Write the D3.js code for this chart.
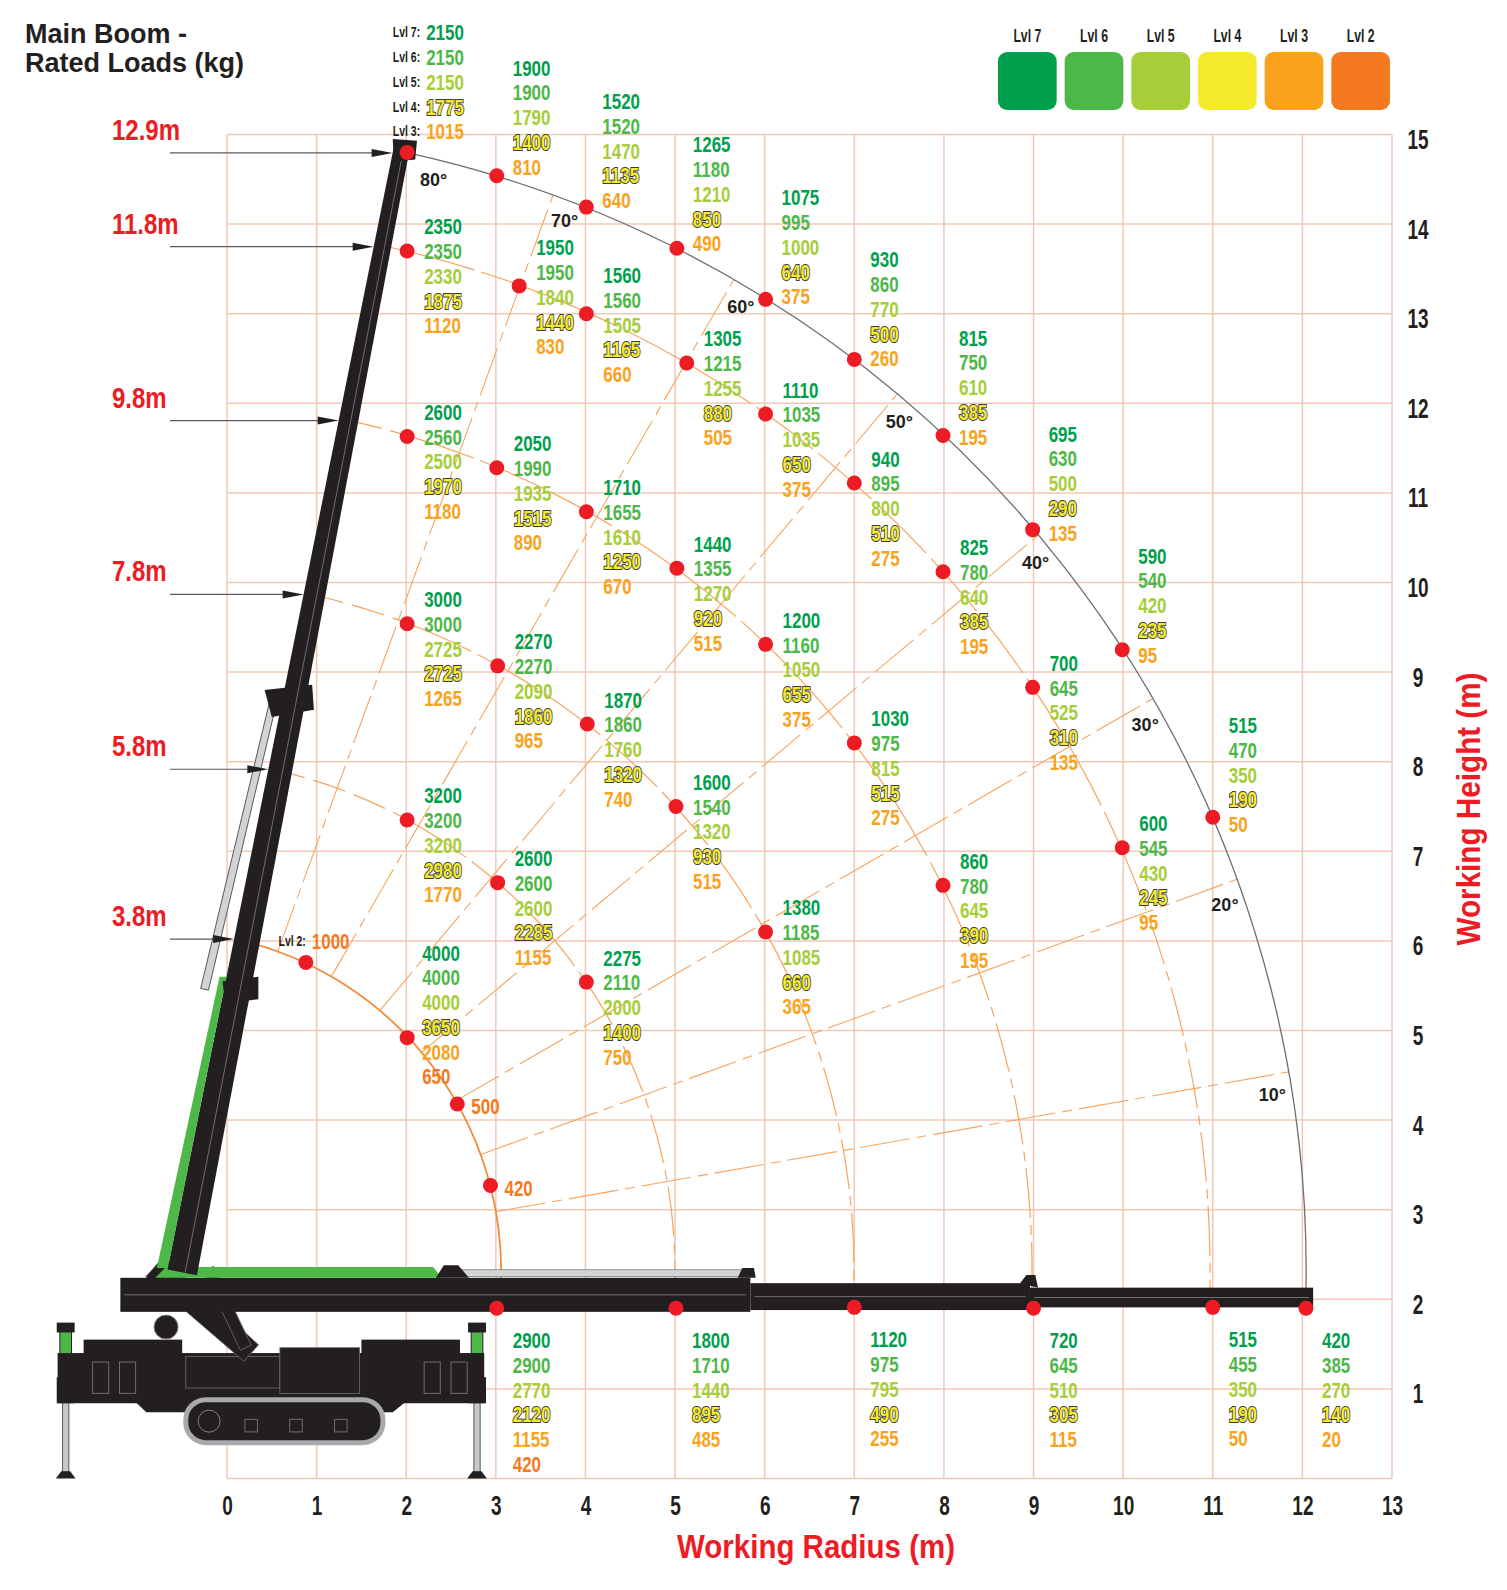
<!DOCTYPE html>
<html>
<head>
<meta charset="utf-8">
<script src="https://cdn.jsdelivr.net/npm/d3@7"></script>
<style>
body { margin: 0; background: #fff; }
svg { display: block; font-family: "Liberation Sans", Arial, sans-serif; }
</style>
</head>
<body>
<svg id="vis"></svg>
<script>
// ---- data ----
var levels = ["Lvl 7", "Lvl 6", "Lvl 5", "Lvl 4", "Lvl 3", "Lvl 2"];
var levelColors = ["#009f4d", "#4db848", "#a6ce39", "#f5eb2c", "#faa21b", "#f47920"];
var xTicks = d3.range(0, 14);
var yTicks = d3.range(1, 16);
var boomLengths = ["3.8m", "5.8m", "7.8m", "9.8m", "11.8m", "12.9m"];
var angleTicks = [10, 20, 30, 40, 50, 60, 70, 80];
var boomFoot = [-0.73, 2.32]; // centre of the reach arcs (m)

// [working radius, working height, loads Lvl7..Lvl2]
var pts38 = [
  [0.88, 5.76, [null, null, null, null, null, 1000]],
  [2.01, 4.92, [4000, 4000, 4000, 3650, 2080, 650]],
  [2.57, 4.18, [null, null, null, null, null, 500]],
  [2.94, 3.27, [null, null, null, null, null, 420]],
  [3.01, 1.90, [2900, 2900, 2770, 2120, 1155, 420]]
];
var pts58 = [
  [2.01, 7.35, [3200, 3200, 3200, 2980, 1770]],
  [3.02, 6.65, [2600, 2600, 2600, 2285, 1155]],
  [4.01, 5.54, [2275, 2110, 2000, 1400, 750]],
  [5.01, 1.90, [1800, 1710, 1440, 895, 485]]
];
var pts78 = [
  [2.01, 9.54, [3000, 3000, 2725, 2725, 1265]],
  [3.02, 9.07, [2270, 2270, 2090, 1860, 965]],
  [4.02, 8.42, [1870, 1860, 1760, 1320, 740]],
  [5.01, 7.50, [1600, 1540, 1320, 930, 515]],
  [6.01, 6.10, [1380, 1185, 1085, 660, 365]],
  [7.00, 1.91, [1120, 975, 795, 490, 255]]
];
var pts98 = [
  [2.01, 11.63, [2600, 2560, 2500, 1970, 1180]],
  [3.01, 11.28, [2050, 1990, 1935, 1515, 890]],
  [4.01, 10.79, [1710, 1655, 1610, 1250, 670]],
  [5.02, 10.16, [1440, 1355, 1270, 920, 515]],
  [6.01, 9.31, [1200, 1160, 1050, 655, 375]],
  [7.00, 8.21, [1030, 975, 815, 515, 275]],
  [7.99, 6.62, [860, 780, 645, 390, 195]],
  [9.00, 1.90, [720, 645, 510, 305, 115]]
];
var pts118 = [
  [2.01, 13.70, [2350, 2350, 2330, 1875, 1120]],
  [3.26, 13.31, [1950, 1950, 1840, 1440, 830]],
  [4.01, 13.00, [1560, 1560, 1505, 1165, 660]],
  [5.13, 12.45, [1305, 1215, 1255, 880, 505]],
  [6.01, 11.88, [1110, 1035, 1035, 650, 375]],
  [7.00, 11.11, [940, 895, 800, 510, 275]],
  [7.99, 10.12, [825, 780, 640, 385, 195]],
  [8.99, 8.83, [700, 645, 525, 310, 135]],
  [9.99, 7.04, [600, 545, 430, 245, 95]],
  [11.00, 1.91, [515, 455, 350, 190, 50]]
];
var pts129 = [
  [2.01, 14.80, [2150, 2150, 2150, 1775, 1015]],
  [3.01, 14.54, [1900, 1900, 1790, 1400, 810]],
  [4.01, 14.19, [1520, 1520, 1470, 1135, 640]],
  [5.02, 13.73, [1265, 1180, 1210, 850, 490]],
  [6.01, 13.16, [1075, 995, 1000, 640, 375]],
  [7.00, 12.49, [930, 860, 770, 500, 260]],
  [7.99, 11.64, [815, 750, 610, 385, 195]],
  [8.99, 10.59, [695, 630, 500, 290, 135]],
  [9.99, 9.25, [590, 540, 420, 235, 95]],
  [11.00, 7.38, [515, 470, 350, 190, 50]],
  [12.04, 1.90, [420, 385, 270, 140, 20]]
];
var groups = [pts38, pts58, pts78, pts98, pts118, pts129];

// ---- setup ----
var W = 1507, H = 1590;
var x = d3.scaleLinear().domain([0, 13]).range([227, 1392]);
var y = d3.scaleLinear().domain([0, 15]).range([1478.5, 134.5]);
var pxm = x(1) - x(0);
var RAD = Math.PI / 180;

var svg = d3.select("#vis").attr("width", W).attr("height", H);
svg.append("rect").attr("width", W).attr("height", H).attr("fill", "#fff");

function ang(p) { return Math.atan2(p[1] - boomFoot[1], p[0] - boomFoot[0]) / RAD; }
function dist(p) { return Math.hypot(p[0] - boomFoot[0], p[1] - boomFoot[1]); }
function isLow(p) { return p[1] < 2.1; }
function polar(R, a) { return [boomFoot[0] + R * Math.cos(a * RAD), boomFoot[1] + R * Math.sin(a * RAD)]; }

var radii = groups.map(function(g) { return d3.mean(g.filter(function(p) { return !isLow(p); }), dist); });
var boomAngle = ang(pts129[0]);

function arcPath(R, a0, a1) {
  var p = d3.path(), cx = x(boomFoot[0]), cy = y(boomFoot[1]), rp = R * pxm;
  var s0 = -a0 * RAD, s1 = -a1 * RAD;
  p.moveTo(cx + rp * Math.cos(s0), cy + rp * Math.sin(s0));
  p.arc(cx, cy, rp, s0, s1, a1 > a0);
  return p.toString();
}

// ---- grid ----
var grid = svg.append("g").attr("stroke", "#efc8b6").attr("stroke-width", 1.5);
grid.selectAll(".gv").data(xTicks).enter().append("line")
  .attr("x1", function(d) { return x(d); }).attr("x2", function(d) { return x(d); })
  .attr("y1", y(0)).attr("y2", y(15));
grid.selectAll(".gh").data(d3.range(0, 16)).enter().append("line")
  .attr("y1", function(d) { return y(d); }).attr("y2", function(d) { return y(d); })
  .attr("x1", x(0)).attr("x2", x(13));

// ---- radial angle lines ----
var lines = svg.append("g").attr("fill", "none");
angleTicks.filter(function(a) { return a < 80; }).forEach(function(a) {
  var p0 = polar(radii[0], a), p1 = polar(radii[5], a);
  lines.append("line")
    .attr("x1", x(p0[0])).attr("y1", y(p0[1])).attr("x2", x(p1[0])).attr("y2", y(p1[1]))
    .attr("stroke", "#f7a45f").attr("stroke-width", 1.1).attr("stroke-dasharray", "50,7,10,7");
});

// ---- reach arcs ----
groups.forEach(function(g, gi) {
  var R = radii[gi];
  var high = g.filter(function(p) { return !isLow(p); });
  var low = g.filter(isLow)[0];
  var aFirst = ang(high[0]), aLast = ang(high[high.length - 1]), aEnd = ang(low);
  if (gi === 5) {
    lines.append("path").attr("d", arcPath(R, boomAngle, aEnd)).attr("stroke", "#6d6e71").attr("stroke-width", 1.3);
  } else if (gi === 0) {
    lines.append("path").attr("d", arcPath(R, boomAngle, aEnd)).attr("stroke", "#f58a3a").attr("stroke-width", 1.8);
  } else {
    lines.append("path").attr("d", arcPath(R, boomAngle, aFirst)).attr("stroke", "#f7a45f").attr("stroke-width", 1.2).attr("stroke-dasharray", "34,9");
    lines.append("path").attr("d", arcPath(R, aFirst, aLast)).attr("stroke", "#f7a45f").attr("stroke-width", 1.2).attr("stroke-dasharray", "70,7");
    lines.append("path").attr("d", arcPath(R, aLast, aEnd)).attr("stroke", "#f7a45f").attr("stroke-width", 1.2).attr("stroke-dasharray", "50,7,10,7");
  }
});

// angle labels
svg.append("g").selectAll("text").data(angleTicks).enter().append("text")
  .each(function(a) {
    var p = polar(12.55, a === 80 ? 76 : a - 1);
    d3.select(this).attr("x", x(p[0])).attr("y", y(p[1]) + 6);
  })
  .attr("text-anchor", "middle").attr("font-size", 18).attr("font-weight", "bold").attr("fill", "#231f20")
  .text(function(a) { return a + "°"; });

// ---- crane illustration ----
var crane = svg.append("g");
var lineM = d3.line().x(function(d) { return x(d[0]); }).y(function(d) { return y(d[1]); });
function poly(pts, fill, stroke, sw) {
  return crane.append("path").attr("d", lineM(pts) + "Z").attr("fill", fill)
    .attr("stroke", stroke || "none").attr("stroke-width", sw || 1);
}
function rectM(r0, h0, r1, h1, fill, stroke, sw, rx) {
  return crane.append("rect").attr("x", x(r0)).attr("y", y(h1))
    .attr("width", x(r1) - x(r0)).attr("height", y(h0) - y(h1))
    .attr("rx", rx || 0).attr("fill", fill).attr("stroke", stroke || "none").attr("stroke-width", sw || 1);
}
function bar(p0, p1, w0, w1, fill, stroke, sw) {
  var ax = x(p0[0]), ay = y(p0[1]), bx = x(p1[0]), by = y(p1[1]);
  var L = Math.hypot(bx - ax, by - ay), nx = -(by - ay) / L, ny = (bx - ax) / L;
  var d = "M" + (ax + nx * w0 / 2) + "," + (ay + ny * w0 / 2) + "L" + (bx + nx * w1 / 2) + "," + (by + ny * w1 / 2) +
    "L" + (bx - nx * w1 / 2) + "," + (by - ny * w1 / 2) + "L" + (ax - nx * w0 / 2) + "," + (ay - ny * w0 / 2) + "Z";
  return crane.append("path").attr("d", d).attr("fill", fill).attr("stroke", stroke || "none").attr("stroke-width", sw || 1);
}
var ink = "#231f20";

// chassis
var outriggers = [-1.80, 2.79];
outriggers.forEach(function(rc) {
  rectM(rc - 0.035, 0.07, rc + 0.035, 0.86, "#c7c8ca", "#58595b", 1);
  poly([[rc - 0.11, 0], [rc + 0.11, 0], [rc + 0.05, 0.08], [rc - 0.05, 0.08]], ink);
  rectM(rc - 0.1, 0.84, rc + 0.1, 1.13, ink);
  rectM(rc - 0.065, 1.13, rc + 0.065, 1.64, "#4db848", ink, 1);
  rectM(rc - 0.1, 1.63, rc + 0.1, 1.74, ink);
});
rectM(-1.89, 0.84, 2.87, 1.40, ink);
rectM(-1.6, 1.38, -0.5, 1.55, ink);
rectM(1.5, 1.38, 2.6, 1.55, ink);
rectM(-0.46, 1.01, 0.59, 1.36, ink, "#6d6e71", 0.8);
rectM(0.59, 0.95, 1.48, 1.46, ink, "#6d6e71", 0.8);
poly([[-1.08, 0.91], [2.06, 0.91], [1.85, 0.74], [-0.9, 0.74]], ink);
rectM(-0.46, 0.40, 1.74, 0.88, ink, "#a7a9ac", 5, 20);
[0.2, 0.7, 1.2].forEach(function(r) { rectM(r, 0.52, r + 0.14, 0.66, "none", "#6d6e71", 1); });
crane.append("circle").attr("cx", x(-0.2)).attr("cy", y(0.64)).attr("r", 11).attr("fill", ink).attr("stroke", "#808285");
[-1.5, -1.2, 2.2, 2.5].forEach(function(r) { rectM(r, 0.95, r + 0.18, 1.3, "none", "#6d6e71", 1); });

// luffing arms
bar([-0.81, 2.36], [0.27, 1.40], 26, 22, ink, "#6d6e71", 0.8);
bar([-0.21, 2.34], [0.21, 1.46], 12, 12, ink, "#6d6e71", 0.8);
crane.append("circle").attr("cx", x(-0.68)).attr("cy", y(1.69)).attr("r", 12).attr("fill", ink).attr("stroke", "#808285");

// stowed horizontal boom
var stowSections = [[-1.19, 5.84, 2.24, 1.86], [5.84, 8.96, 2.18, 1.88], [8.96, 12.12, 2.13, 1.91]];
stowSections.forEach(function(s) {
  rectM(s[0], s[3], s[1], s[2], ink);
  crane.append("line").attr("x1", x(s[0]) + 4).attr("x2", x(s[1]) - 4)
    .attr("y1", y((s[2] + s[3]) / 2)).attr("y2", y((s[2] + s[3]) / 2))
    .attr("stroke", "#808285").attr("stroke-width", 0.8);
});
poly([[-0.80, 2.24], [-0.68, 2.36], [2.30, 2.36], [2.40, 2.24]], "#4db848");
rectM(2.40, 2.255, 5.84, 2.33, "#d1d3d4", "#808285", 0.8);
poly([[2.33, 2.24], [2.42, 2.38], [2.58, 2.38], [2.70, 2.24]], ink);
poly([[5.70, 2.24], [5.75, 2.35], [5.88, 2.35], [5.90, 2.24]], ink);
poly([[8.85, 2.18], [8.92, 2.27], [9.02, 2.27], [9.05, 2.13]], ink);

// main boom (raised)
var boomBase = [-0.50, 2.30], boomTip = [1.95, 14.85];
var bw0 = 30, bw1 = 16;
bar(boomBase, boomTip, bw0, bw1, ink);
var bx0 = x(boomBase[0]), by0 = y(boomBase[1]), bx1 = x(boomTip[0]), by1 = y(boomTip[1]);
var bLen = Math.hypot(bx1 - bx0, by1 - by0), uy = (by1 - by0) / bLen;
function boomEdgeAt(py) {
  var t = (py - by0) / (by1 - by0);
  var hw = (bw0 + (bw1 - bw0) * t) / 2;
  return bx0 + (bx1 - bx0) * t - hw / Math.abs(uy);
}
var gy0 = y(2.35), gy1 = y(5.6);
crane.append("path").attr("fill", "#4db848").attr("d",
  "M" + boomEdgeAt(gy0) + "," + gy0 + "L" + (boomEdgeAt(gy0) - 11) + "," + gy0 +
  "L" + (boomEdgeAt(gy1) - 7) + "," + gy1 + "L" + boomEdgeAt(gy1) + "," + gy1 + "Z");
bar([-0.25, 5.46], [0.52, 8.69], 8, 7, "#d1d3d4", "#58595b", 1);
poly([[0.42, 8.80], [0.95, 8.86], [0.97, 8.58], [0.50, 8.50]], ink);
poly([[-0.05, 5.55], [0.35, 5.60], [0.35, 5.35], [-0.02, 5.30]], ink);
crane.append("line").attr("x1", bx0 + 3).attr("y1", by0).attr("x2", bx1 + 2).attr("y2", by1)
  .attr("stroke", "#808285").attr("stroke-width", 0.8);
poly([[1.85, 14.95], [2.12, 14.93], [2.10, 14.72], [1.86, 14.70]], ink);

// boom-length arrows and labels
var arrows = svg.append("g");
boomLengths.forEach(function(lbl, gi) {
  var ay = y(boomFoot[1] + radii[gi] * Math.sin(boomAngle * RAD));
  var ex = boomEdgeAt(ay);
  arrows.append("line").attr("x1", 170).attr("x2", ex - 18).attr("y1", ay).attr("y2", ay)
    .attr("stroke", "#58595b").attr("stroke-width", 1.2);
  arrows.append("path").attr("d", "M" + ex + "," + ay + "L" + (ex - 21) + "," + (ay - 4) + "L" + (ex - 21) + "," + (ay + 4) + "Z")
    .attr("fill", ink);
  arrows.append("text").attr("transform", "translate(112," + (ay - 13) + ") scale(0.8,1)")
    .attr("font-size", 30).attr("font-weight", "bold").attr("fill", "#ed1c24").text(lbl);
});

// ---- load points ----
var allPts = [];
groups.forEach(function(g, gi) { g.forEach(function(p, i) { allPts.push({ p: p, g: gi, i: i }); }); });
svg.append("g").selectAll("circle").data(allPts).enter().append("circle")
  .attr("cx", function(d) { return x(d.p[0]); }).attr("cy", function(d) { return y(d.p[1]); })
  .attr("r", 7.5).attr("fill", "#ed1c24");

// ---- load labels (one multi-line text per point) ----
var lh = 24.75;
var labels = svg.append("g").attr("font-weight", "bold");
allPts.forEach(function(d) {
  var p = d.p, vals = [];
  p[2].forEach(function(v, k) { if (v != null) vals.push({ v: v, k: k }); });
  var n = vals.length, dx = 17, dy = -24.5, prefix = false;
  if (isLow(p)) { dx = 16; dy = 32; }
  else if (d.g === 5 && d.i === 0) { dx = 19; dy = -120; prefix = true; }
  else if (d.g === 5) { dx = 16; dy = -108 + 2 * (p[0] - 3); }
  else if (n === 1) { if (d.i === 0) { dx = 6; dy = -21; prefix = true; } else { dx = 14; dy = 2; } }
  else if (n === 6) { dx = 15; dy = -85; }
  else if (d.g === 4 && (d.i === 1 || d.i === 2)) { dy = -38.5; }
  var cx = x(p[0]) + dx, cy = y(p[1]) + dy;
  var t = labels.append("text").attr("transform", "translate(" + cx + "," + (cy + 8) + ") scale(0.77,1)")
    .attr("font-size", 22);
  vals.forEach(function(o, j) {
    var s = t.append("tspan").attr("x", 0).attr("y", j * lh).attr("fill", levelColors[o.k]).text(o.v);
    if (o.k === 3) s.attr("stroke", "#3a3a3c").attr("stroke-width", 2).attr("paint-order", "stroke");
  });
  if (prefix) {
    var pt = labels.append("text").attr("transform", "translate(" + (cx - 6) + "," + (cy + 5) + ") scale(0.75,1)")
      .attr("text-anchor", "end").attr("font-size", 14).attr("fill", ink);
    vals.forEach(function(o, j) {
      pt.append("tspan").attr("x", 0).attr("y", j * lh).text(levels[o.k] + ":");
    });
  }
});

// ---- axes ----
var xAxis = svg.append("g").attr("transform", "translate(0," + y(0) + ")")
  .call(d3.axisBottom(x).tickValues(xTicks).tickSize(0).tickFormat(d3.format("d")));
xAxis.attr("font-family", null).attr("font-size", 28).attr("font-weight", "bold");
xAxis.select(".domain").remove();
xAxis.selectAll("text").attr("y", 36.5).attr("dy", null).attr("fill", ink).attr("transform", "scale(0.68,1)");

var yAxis = svg.append("g").attr("transform", "translate(1418,0)")
  .call(d3.axisRight(y).tickValues(yTicks).tickSize(0).tickFormat(d3.format("d")));
yAxis.attr("font-family", null).attr("font-size", 28).attr("font-weight", "bold");
yAxis.select(".domain").remove();
yAxis.selectAll("text").attr("x", 0).attr("y", 14).attr("dy", null).attr("text-anchor", "middle")
  .attr("fill", ink).attr("transform", "scale(0.68,1)");

svg.append("text").attr("x", 816).attr("y", 1558).attr("text-anchor", "middle")
  .attr("font-size", 34).attr("font-weight", "bold").attr("fill", "#ed1c24")
  .attr("textLength", 278).attr("lengthAdjust", "spacingAndGlyphs").text("Working Radius (m)");
svg.append("text").attr("transform", "translate(1480,809) rotate(-90)").attr("text-anchor", "middle")
  .attr("font-size", 34).attr("font-weight", "bold").attr("fill", "#ed1c24")
  .attr("textLength", 273).attr("lengthAdjust", "spacingAndGlyphs").text("Working Height (m)");

// ---- legend ----
var legend = svg.append("g");
var legX = d3.scaleBand().domain(levels).range([998, 1390]).paddingInner(0.12);
legend.selectAll("rect").data(levels).enter().append("rect")
  .attr("x", function(d) { return legX(d); }).attr("y", 52)
  .attr("width", legX.bandwidth()).attr("height", 58).attr("rx", 9)
  .attr("fill", function(d, i) { return levelColors[i]; });
legend.selectAll("text").data(levels).enter().append("text")
  .attr("transform", function(d) { return "translate(" + (legX(d) + legX.bandwidth() / 2) + ",41.5) scale(0.68,1)"; })
  .attr("text-anchor", "middle").attr("font-size", 18).attr("font-weight", "bold").attr("fill", ink)
  .text(function(d) { return d; });

// ---- title ----
svg.append("text").attr("x", 25).attr("y", 43).attr("font-size", 27).attr("font-weight", "bold").attr("fill", ink).text("Main Boom -");
svg.append("text").attr("x", 25).attr("y", 72).attr("font-size", 27).attr("font-weight", "bold").attr("fill", ink).text("Rated Loads (kg)");
</script>
</body>
</html>
